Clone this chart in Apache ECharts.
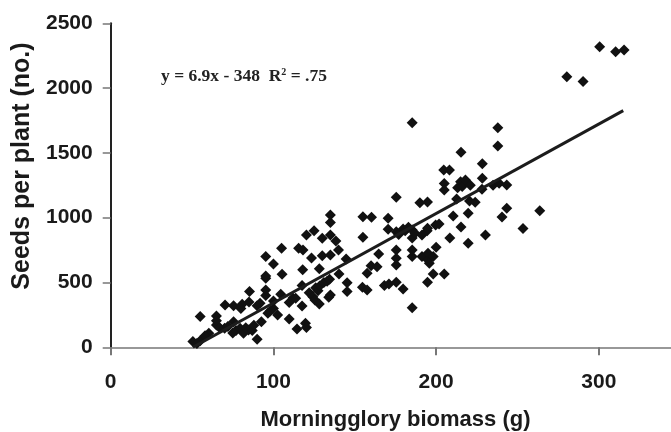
<!DOCTYPE html>
<html><head><meta charset="utf-8">
<script src="https://cdn.jsdelivr.net/npm/echarts@6/dist/echarts.min.js"></script>
<style>html,body{margin:0;padding:0;background:#fff}#c{width:671px;height:432px}</style>
</head><body><div id="c"></div>
<script>
// Morningglory biomass (g) and seeds per plant (no.)
var biomass = [50.5,55,53,55,60.3,58,65,65,65,67,70,70.3,72,75.5,75.5,75,77,79.5,80.8,80,81.6,83,84.7,85.3,85,87,88,90,90,91.8,92.6,95.3,95.3,95.3,95.3,95.3,96.6,98,100,100,100,102.6,
104.5,105,105.3,109.7,109.7,112,113.7,114.5,115.5,117.6,117.6,118.2,118,119.7,120.3,120.3,122,123.4,124.2,125,125.5,126,127.4,128.4,128.2,128.2,130,130,131,133,134,134.5,135,135,135,135,135,138.4,140,140.3,144.7,145.3,145.3,
154.7,155,155,157.6,157.6,160,160.3,163.7,164.7,168.2,170.5,170.5,171,175.5,175.5,175.5,175.5,175.5,175.5,177,179.7,179.7,181,183,185.3,185.3,185.3,185.3,185.3,185.3,187,190,191.3,191.3,194.5,194.7,194.7,194.7,195,195,195.8,198.2,198.2,200,
199.7,201.8,205,204.7,205,205,208.2,208.4,210.5,212.6,213.2,215.3,215.3,215,216,218,219.7,219.7,220.5,221,224,228.2,228.4,228.4,230.3,235,237.9,237.9,238.7,240.5,243.4,243.4,253.4,263.7,
280.3,290.3,300.5,310.3,315.5];
var seeds = [44,51,30,237,108,90,172,242,205,150,147,327,160,198,321,110,130,147,332,300,108,150,134,430,350,130,170,62,320,340,198,399,442,532,550,700,262,280,358,643,300,249,
409,764,563,219,345,380,378,141,764,476,319,751,599,185,152,867,420,689,391,900,365,460,437,473,607,334,707,841,500,510,386,525,404,712,867,962,1021,820,751,566,682,499,430,
463,849,1008,442,571,630,1003,622,720,476,910,995,489,502,635,687,751,892,1157,870,450,913,900,926,306,700,751,844,905,1733,880,1116,700,867,900,502,918,1121,674,725,648,566,700,772,
944,952,566,1368,1263,1214,1368,844,1013,1145,1232,928,1505,1278,1240,1291,802,1034,1129,1250,1119,1219,1304,1417,867,1250,1553,1695,1265,1006,1073,1253,916,1054,
2088,2050,2320,2281,2294];
// regression line end points
var fitX = [50.5, 315];
var fitY = [0, 1826];
var xTicks = [0, 100, 200, 300];
var xMax = 350; // axis runs off the right edge of the figure
var yTicks = [0, 500, 1000, 1500, 2000, 2500];

var pts = biomass.map(function(x, i){ return [x, seeds[i]]; });
var fit = fitX.map(function(x, i){ return [x, fitY[i]]; });

var chart = echarts.init(document.getElementById('c'), null, {renderer: 'canvas'});
var FAM = '"Liberation Sans", Arial, sans-serif';
var lblFont = {fontFamily: FAM, fontWeight: 'bold', fontSize: 21, color: '#1a1a1a'};
chart.setOption({
  animation: false,
  backgroundColor: '#fff',
  grid: {left: 110.7, top: 23.3, width: 569.5, height: 324, containLabel: false, outerBoundsMode: 'none'},
  xAxis: {
    type: 'value', min: xTicks[0], max: xMax, interval: 100,
    name: 'Morningglory biomass (g)', nameLocation: 'middle', nameGap: 62,
    nameTextStyle: {fontFamily: FAM, fontWeight: 'bold', fontSize: 22, color: '#1a1a1a'},
    axisLine: {show: true, lineStyle: {color: '#777', width: 1.5}},
    axisTick: {show: true, inside: false, length: 8, customValues: xTicks, lineStyle: {color: '#777', width: 2}},
    axisLabel: Object.assign({margin: 24, customValues: xTicks, formatter: function(v){return String(v);}}, lblFont),
    splitLine: {show: false}
  },
  yAxis: {
    type: 'value', min: yTicks[0], max: yTicks[yTicks.length-1], interval: 500,
    axisLine: {show: true, lineStyle: {color: '#222', width: 2}},
    axisTick: {show: true, inside: false, length: 8, lineStyle: {color: '#777', width: 1.5}},
    axisLabel: Object.assign({margin: 18, formatter: function(v){return String(v);}}, lblFont),
    splitLine: {show: false}
  },
  graphic: [
    {type: 'text', x: 22, y: 166, rotation: Math.PI/2,
     style: {text: 'Seeds per plant (no.)', textAlign: 'center', textVerticalAlign: 'middle',
       font: 'bold 25px "Liberation Sans", Arial, sans-serif', fill: '#1a1a1a'}},
    {type: 'text', x: 161, y: 67,
     style: {text: '{a|y = 6.9x - 348  R}{s|2}{a| = .75}',
       rich: {a: {fontFamily: '"Liberation Serif", "Times New Roman", serif', fontWeight: 'bold', fontSize: 17.5, color: '#222', verticalAlign: 'bottom'},
              s: {fontFamily: '"Liberation Serif", "Times New Roman", serif', fontWeight: 'bold', fontSize: 10, color: '#222', verticalAlign: 'top', padding: [0,0,7,0]}},
       fill: '#222'}}
  ],
  series: [
    {type: 'scatter', data: pts, symbol: 'diamond', symbolSize: 11,
     itemStyle: {color: '#111', opacity: 1}, z: 3},
    {type: 'line', data: fit, showSymbol: false, symbol: 'none',
     lineStyle: {color: '#1c1c1c', width: 3}, z: 4}
  ]
});
</script></body></html>
